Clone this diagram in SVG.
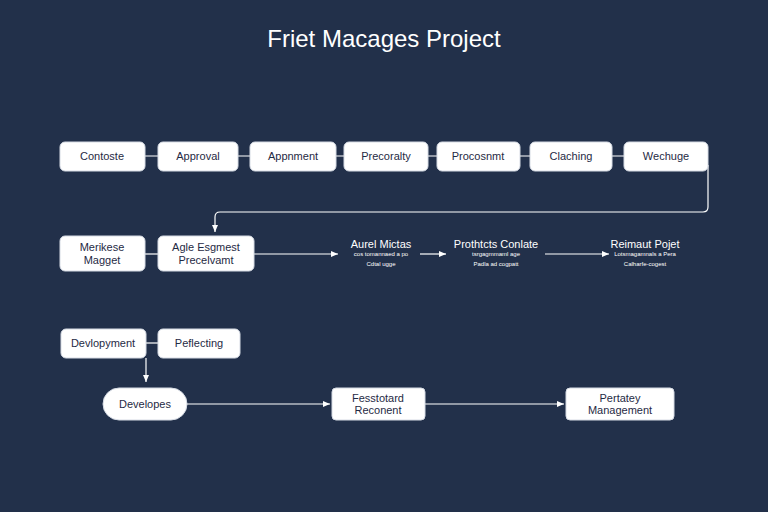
<svg xmlns="http://www.w3.org/2000/svg" width="768" height="512" viewBox="0 0 768 512">
<style>
.n{fill:#fff;stroke:#d6dbe4;stroke-width:1}
.t{font-family:"Liberation Sans",Arial,sans-serif;font-size:11px;fill:#1f2a44;text-anchor:middle}
.w{font-family:"Liberation Sans",Arial,sans-serif;font-size:11px;fill:#fff;text-anchor:middle}
.s{font-family:"Liberation Sans",Arial,sans-serif;font-size:6px;fill:#fff;text-anchor:middle}
.c{stroke:#fff;stroke-width:1.2;fill:none}
</style>
<defs><marker id="a" markerWidth="8" markerHeight="8" refX="7" refY="4" orient="auto" markerUnits="userSpaceOnUse"><path d="M0,1 L7,4 L0,7 z" fill="#fff"/></marker></defs>
<rect width="768" height="512" fill="#22304a"/>
<text x="384" y="47" font-family="Liberation Sans,Arial,sans-serif" font-size="24" fill="#fff" text-anchor="middle">Friet Macages Project</text>
<g id="connectors">
<path class="c" d="M145,156H158M238,156H250M336,156H344M428,156H437M520,156H530M612,156H624"/>
<path class="c" d="M708,165V207Q708,212 703,212H220Q215,212 215,217V232" marker-end="url(#a)"/>
<path class="c" d="M145,254H158"/>
<path class="c" d="M254,254H338" marker-end="url(#a)"/>
<path class="c" d="M420,254H446" marker-end="url(#a)"/>
<path class="c" d="M545,254H609" marker-end="url(#a)"/>
<path class="c" d="M146,343H158"/>
<path class="c" d="M146,358V382" marker-end="url(#a)"/>
<path class="c" d="M187,404H330" marker-end="url(#a)"/>
<path class="c" d="M425,404H564" marker-end="url(#a)"/>
</g>
<g id="n1"><rect class="n" x="60" y="142" width="85" height="29" rx="5"/><text class="t" x="102" y="160">Contoste</text></g>
<g id="n2"><rect class="n" x="158" y="142" width="80" height="29" rx="5"/><text class="t" x="198" y="160">Approval</text></g>
<g id="n3"><rect class="n" x="250" y="142" width="86" height="29" rx="5"/><text class="t" x="293" y="160">Appnment</text></g>
<g id="n4"><rect class="n" x="344" y="142" width="84" height="29" rx="5"/><text class="t" x="386" y="160">Precoralty</text></g>
<g id="n5"><rect class="n" x="437" y="142" width="83" height="29" rx="5"/><text class="t" x="478" y="160">Procosnmt</text></g>
<g id="n6"><rect class="n" x="530" y="142" width="82" height="29" rx="5"/><text class="t" x="571" y="160">Claching</text></g>
<g id="n7"><rect class="n" x="624" y="142" width="84" height="29" rx="5"/><text class="t" x="666" y="160">Wechuge</text></g>
<g id="n8"><rect class="n" x="60" y="236" width="85" height="35" rx="5"/><text class="t" x="102" y="251">Merikese</text><text class="t" x="102" y="264">Magget</text></g>
<g id="n9"><rect class="n" x="158" y="236" width="96" height="35" rx="5"/><text class="t" x="206" y="251">Agle Esgmest</text><text class="t" x="206" y="264">Precelvamt</text></g>
<g id="n10"><text class="w" x="381" y="248">Aurel Mictas</text><text class="s" x="381" y="256">cos tomannaed a po</text><text class="s" x="381" y="266" font-size="8">Cdtal ugge</text></g>
<g id="n11"><text class="w" x="496" y="248">Prothtcts Conlate</text><text class="s" x="496" y="256">tsrgagmmaml age</text><text class="s" x="496" y="266" font-size="8">Padla ad cogpatt</text></g>
<g id="n12"><text class="w" x="645" y="248">Reimaut Pojet</text><text class="s" x="645" y="256">Lotsmagamnals a Pera</text><text class="s" x="645" y="266" font-size="8">Calharfe-cogest</text></g>
<g id="n13"><rect class="n" x="61" y="329" width="85" height="29" rx="5"/><text class="t" x="103" y="347">Devlopyment</text></g>
<g id="n14"><rect class="n" x="158" y="329" width="82" height="29" rx="5"/><text class="t" x="199" y="347">Peflecting</text></g>
<g id="n15"><rect class="n" x="103" y="388" width="84" height="32" rx="16"/><text class="t" x="145" y="408">Developes</text></g>
<g id="n16"><rect class="n" x="332" y="388" width="93" height="32" rx="4"/><text class="t" x="378" y="402">Fesstotard</text><text class="t" x="378" y="414">Reconent</text></g>
<g id="n17"><rect class="n" x="566" y="388" width="108" height="32" rx="4"/><text class="t" x="620" y="402">Pertatey</text><text class="t" x="620" y="414">Management</text></g>
</svg>
